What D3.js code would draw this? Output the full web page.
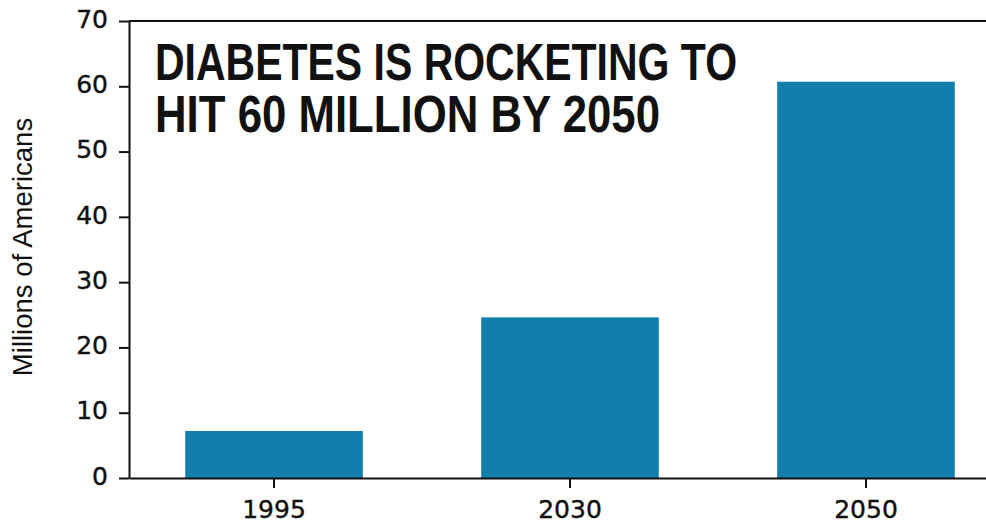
<!DOCTYPE html>
<html>
<head>
<meta charset="utf-8">
<script src="https://cdn.jsdelivr.net/npm/d3@7"></script>
<style>
  body { margin: 0; background: #fff; }
  svg { display: block; }
  .axis text { font-family: 'DejaVu Sans', sans-serif; font-size: 25px; fill: #111; stroke: #111; stroke-width: 0.4px; }
  .axis path, .axis line { stroke: #111; stroke-width: 2px; }
</style>
</head>
<body>
<div id="chart"></div>
<script>
var years = ['1995', '2030', '2050']
var values = [7.2, 24.6, 60.7]
var yTicks = [0, 10, 20, 30, 40, 50, 60, 70]
var titleLines = ['DIABETES IS ROCKETING TO', 'HIT 60 MILLION BY 2050']
var yLabel = 'Millions of Americans'

var W = 986, H = 523
var barColor = '#137dab'

var svg = d3.select('#chart').append('svg')
            .attr('width', W)
            .attr('height', H)

var x = d3.scaleBand().domain(years).range([129, 1011])
          .paddingInner(0.4).paddingOuter(0.19)
var y = d3.scaleLinear().domain([0, 70]).range([478, 21])

// bars
svg.append('g').selectAll('rect')
   .data(values)
   .enter().append('rect')
   .attr('x', (d,i) => x(years[i]))
   .attr('y', d => y(d))
   .attr('width', x.bandwidth())
   .attr('height', d => y(0) - y(d))
   .style('fill', barColor)

// top frame line
svg.append('line')
   .attr('x1', x.range()[0]).attr('x2', W)
   .attr('y1', y(70)).attr('y2', y(70))
   .style('stroke', '#111').style('stroke-width', 2)

// axes
svg.append('g').attr('class', 'axis')
   .attr('transform', 'translate(129,0)')
   .call(d3.axisLeft(y).tickValues(yTicks).tickSize(10).tickPadding(11).tickSizeOuter(0))
   .selectAll('.tick text').attr('dy', '0.25em')

svg.append('g').attr('class', 'axis')
   .attr('transform', 'translate(0,478)')
   .call(d3.axisBottom(x).tickSize(10).tickPadding(12).tickSizeOuter(0))

// y label
svg.append('text')
   .attr('transform', 'translate(32,247) rotate(-90)')
   .attr('text-anchor', 'middle')
   .style('font-family', "'Liberation Sans', Arial, sans-serif")
   .style('font-size', '27.5px')
   .style('fill', '#111')
   .text(yLabel)

// title, one text with a tspan per line
var titleW = [582, 505]
var title = svg.append('text')
   .style('font-family', "'Liberation Sans', Arial, sans-serif")
   .style('font-weight', 'bold')
   .style('font-size', '51.5px')
   .style('fill', '#111')
titleLines.forEach((t, i) => {
  title.append('tspan')
     .attr('x', 155)
     .attr('y', 80 + i * 51.7)
     .attr('textLength', titleW[i])
     .attr('lengthAdjust', 'spacingAndGlyphs')
     .text(t)
})
</script>
</body>
</html>
